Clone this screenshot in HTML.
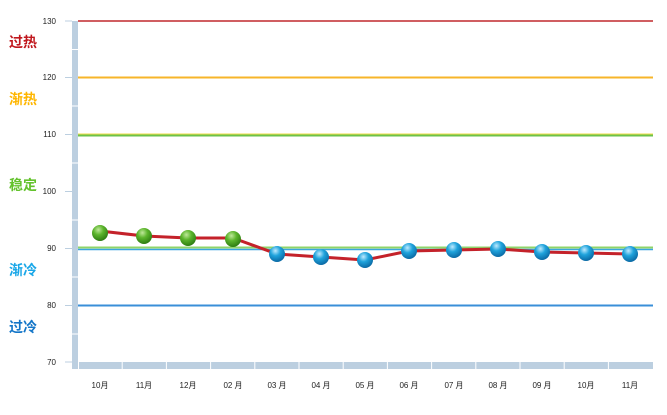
<!DOCTYPE html>
<html><head><meta charset="utf-8"><style>
html,body{margin:0;padding:0;background:#fff;width:667px;height:415px;overflow:hidden}
text{font-family:"Liberation Sans","Noto Sans CJK SC",sans-serif}
</style></head><body>
<svg width="667" height="415" viewBox="0 0 667 415" xmlns="http://www.w3.org/2000/svg">
<defs>
<radialGradient id="g" cx="0.4" cy="0.3" r="0.7"><stop offset="0" stop-color="#bfe89a"/><stop offset="0.45" stop-color="#5cb52c"/><stop offset="1" stop-color="#2e7d12"/></radialGradient>
<radialGradient id="b" cx="0.4" cy="0.3" r="0.7"><stop offset="0" stop-color="#bfeaff"/><stop offset="0.45" stop-color="#1fa3dc"/><stop offset="1" stop-color="#0b6aa5"/></radialGradient>
</defs>
<!-- axis bars -->
<rect x="72" y="21" width="6" height="348" fill="#bccfe0"/>
<rect x="78" y="362" width="575" height="7" fill="#bccfe0"/>
<g stroke="#fff" stroke-width="1">
<line x1="72" y1="49.5" x2="78" y2="49.5"/><line x1="72" y1="106" x2="78" y2="106"/><line x1="72" y1="163" x2="78" y2="163"/><line x1="72" y1="220" x2="78" y2="220"/><line x1="72" y1="277" x2="78" y2="277"/><line x1="72" y1="334" x2="78" y2="334"/>
<line x1="78.5" y1="362" x2="78.5" y2="369"/>
<line x1="122.2" y1="362" x2="122.2" y2="369"/><line x1="166.4" y1="362" x2="166.4" y2="369"/><line x1="210.6" y1="362" x2="210.6" y2="369"/><line x1="254.8" y1="362" x2="254.8" y2="369"/><line x1="299" y1="362" x2="299" y2="369"/><line x1="343.2" y1="362" x2="343.2" y2="369"/><line x1="387.4" y1="362" x2="387.4" y2="369"/><line x1="431.6" y1="362" x2="431.6" y2="369"/><line x1="475.8" y1="362" x2="475.8" y2="369"/><line x1="520" y1="362" x2="520" y2="369"/><line x1="564.2" y1="362" x2="564.2" y2="369"/><line x1="608.4" y1="362" x2="608.4" y2="369"/>
</g>
<g stroke="#bccfe0" stroke-width="1">
<line x1="65" y1="21" x2="72" y2="21"/><line x1="65" y1="77.5" x2="72" y2="77.5"/><line x1="65" y1="134.5" x2="72" y2="134.5"/><line x1="65" y1="191.5" x2="72" y2="191.5"/><line x1="65" y1="248.5" x2="72" y2="248.5"/><line x1="65" y1="305.5" x2="72" y2="305.5"/><line x1="65" y1="362" x2="72" y2="362"/>
</g>
<g font-size="8" fill="#222" text-anchor="end">
<text x="56" y="24">130</text><text x="56" y="80">120</text><text x="56" y="137">110</text><text x="56" y="194">100</text><text x="56" y="251">90</text><text x="56" y="308">80</text><text x="56" y="365">70</text>
</g>
<!-- threshold lines -->
<line x1="78" y1="21" x2="653" y2="21" stroke="#c0282d" stroke-width="1.5"/>
<line x1="78" y1="77.5" x2="653" y2="77.5" stroke="#f7b52a" stroke-width="2"/>
<line x1="78" y1="134" x2="653" y2="134" stroke="#f2dd4b" stroke-width="1"/>
<line x1="78" y1="135.5" x2="653" y2="135.5" stroke="#6cc24a" stroke-width="2"/>
<line x1="78" y1="247.5" x2="653" y2="247.5" stroke="#8fd46a" stroke-width="2"/>
<line x1="78" y1="249.5" x2="653" y2="249.5" stroke="#3aa5e0" stroke-width="1.5"/>
<line x1="78" y1="305.5" x2="653" y2="305.5" stroke="#3a8fd8" stroke-width="2"/>
<!-- side labels -->
<g font-size="14" font-weight="bold">
<text x="9" y="47" fill="#c0171d">过热</text>
<text x="9" y="104" fill="#ffb600">渐热</text>
<text x="9" y="190" fill="#63c22c">稳定</text>
<text x="9" y="275" fill="#1aa7e8">渐冷</text>
<text x="9" y="332" fill="#1476c8">过冷</text>
</g>
<!-- series -->
<polyline fill="none" stroke="#c4222a" stroke-width="3" stroke-linejoin="round" points="100,231 144,236 188,238 233,238 277,254 321,257 365,260 409,251 454,250 498,249 542,252 586,253 630,254"/>
<g>
<circle cx="100" cy="233" r="8" fill="#000" opacity="0.15"/>
<circle cx="100" cy="233" r="8" fill="url(#g)"/>
<circle cx="144" cy="236" r="8" fill="url(#g)"/>
<circle cx="188" cy="238" r="8" fill="url(#g)"/>
<circle cx="233" cy="239" r="8" fill="url(#g)"/>
<circle cx="277" cy="254" r="8" fill="url(#b)"/>
<circle cx="321" cy="257" r="8" fill="url(#b)"/>
<circle cx="365" cy="260" r="8" fill="url(#b)"/>
<circle cx="409" cy="251" r="8" fill="url(#b)"/>
<circle cx="454" cy="250" r="8" fill="url(#b)"/>
<circle cx="498" cy="249" r="8" fill="url(#b)"/>
<circle cx="542" cy="252" r="8" fill="url(#b)"/>
<circle cx="586" cy="253" r="8" fill="url(#b)"/>
<circle cx="630" cy="254" r="8" fill="url(#b)"/>
</g>
<g font-size="8" fill="#222" text-anchor="middle">
<text x="100" y="388">10月</text><text x="144" y="388">11月</text><text x="188" y="388">12月</text><text x="233" y="388">02 月</text><text x="277" y="388">03 月</text><text x="321" y="388">04 月</text><text x="365" y="388">05 月</text><text x="409" y="388">06 月</text><text x="454" y="388">07 月</text><text x="498" y="388">08 月</text><text x="542" y="388">09 月</text><text x="586" y="388">10月</text><text x="630" y="388">11月</text>
</g>
</svg>
</body></html>
